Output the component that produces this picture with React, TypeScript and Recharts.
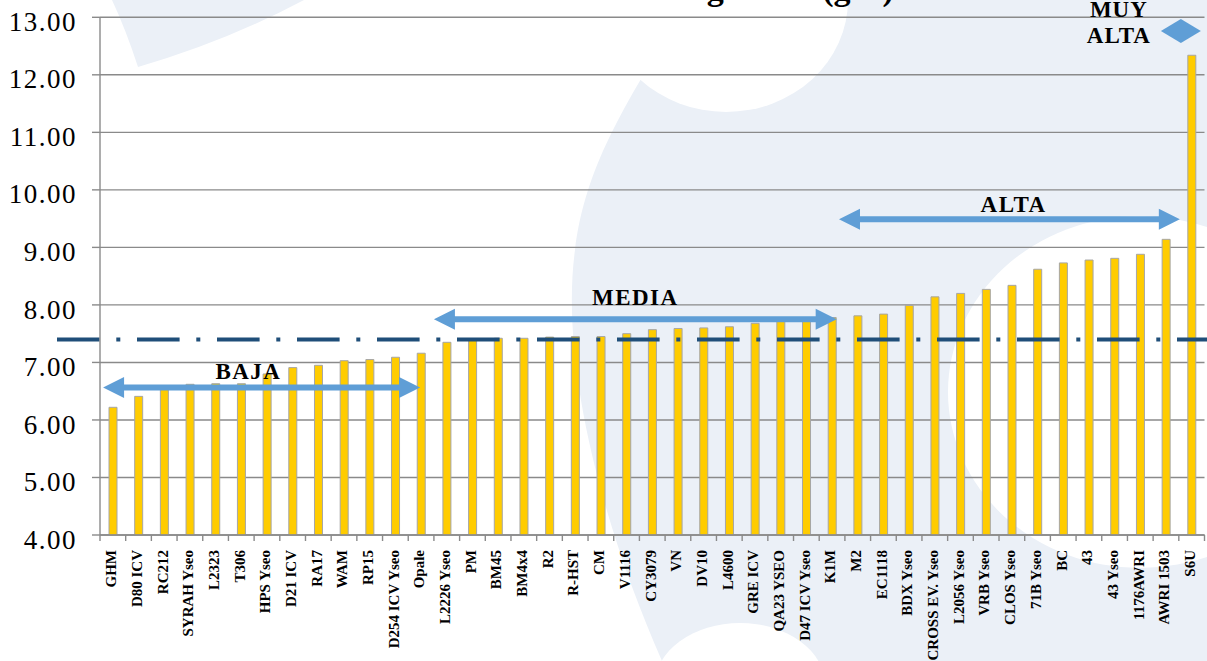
import React from 'react';
import {
  BarChart,
  Bar,
  XAxis,
  YAxis,
  CartesianGrid,
  ReferenceLine,
  ReferenceDot,
} from 'recharts';

// ---------- data ----------
const categories = [
  'GHM', 'D80 ICV', 'RC212', 'SYRAH Yseo', 'L2323', 'T306', 'HPS Yseo', 'D21 ICV',
  'RA17', 'WAM', 'RP15', 'D254 ICV Yseo', 'Opale', 'L2226 Yseo', 'PM', 'BM45',
  'BM4x4', 'R2', 'R-HST', 'CM', 'V1116', 'CY3079', 'VN', 'DV10', 'L4600',
  'GRE ICV', 'QA23 YSEO', 'D47 ICV Yseo', 'K1M', 'M2', 'EC1118', 'BDX Yseo',
  'CROSS EV. Yseo', 'L2056 Yseo', 'VRB Yseo', 'CLOS Yseo', '71B Yseo', 'BC', '43',
  '43 Yseo', '1176AWRI', 'AWRI 1503', 'S6U',
];
const glicerol = [
  6.22, 6.41, 6.55, 6.62, 6.63, 6.63, 6.8, 6.91,
  6.95, 7.03, 7.05, 7.09, 7.16, 7.35, 7.39, 7.42,
  7.42, 7.44, 7.45, 7.45, 7.5, 7.57, 7.59, 7.6, 7.62,
  7.68, 7.72, 7.72, 7.78, 7.81, 7.84, 7.99,
  8.14, 8.2, 8.27, 8.34, 8.62, 8.73, 8.78,
  8.81, 8.88, 9.14, 12.34,
];
const yTicks = [4, 5, 6, 7, 8, 9, 10, 11, 12, 13];
const mediaGeneral = 7.4;

// range annotations (x in category units, y in g/L)
const rangeNames = ['BAJA', 'MEDIA', 'ALTA'];
const rangeStart = [0.12, 13.0, 28.77];
const rangeEnd = [12.46, 28.68, 42.04];
const rangeArrowY = [6.565, 7.75, 9.49];
const rangeLabelX = [5.78, 20.84, 35.57];
const rangeLabelY = [6.715, 8.0, 9.62];
const muyAltaLines = ['MUY', 'ALTA'];
const muyAltaX = 42.08;
const muyAltaY = 12.76;

const title = 'Producción de glicerol (g/L)';

const data = categories.map((c, i) => ({ cepa: c, pos: i + 0.5, glicerol: glicerol[i] }));

// ---------- styles ----------
const SERIF = "'Liberation Serif', 'Times New Roman', serif";
const GRID = '#8a8a8a';
const BLUE = '#5f9ed6';
const NAVY = '#1f4e79';
const BG = '#ebf0f7';
const X_TICK_SIZE = 6;
const X_TICK_GAP = 15;

const YTick = (props: any) => {
  const { x, y, payload } = props;
  return (
    <text
      x={x}
      y={y + 13.6}
      textAnchor="end"
      fontFamily={SERIF}
      fontSize={27}
      letterSpacing={1.5}
      fill="#000"
    >
      {Number(payload.value).toFixed(2)}
    </text>
  );
};

const XTick = (props: any) => {
  const { x, y, payload, index, visibleTicksCount, width } = props;
  const half = width && visibleTicksCount ? width / visibleTicksCount / 2 : 0;
  const axisY = y - X_TICK_GAP;
  return (
    <g>
      {half > 0 && (
        <line
          x1={x - half}
          x2={x - half}
          y1={axisY}
          y2={axisY + X_TICK_SIZE}
          stroke={GRID}
          strokeWidth={1.4}
        />
      )}
      {half > 0 && index === visibleTicksCount - 1 && (
        <line
          x1={x + half}
          x2={x + half}
          y1={axisY}
          y2={axisY + X_TICK_SIZE}
          stroke={GRID}
          strokeWidth={1.4}
        />
      )}
      <text
        transform={`rotate(-90, ${x}, ${y})`}
        x={x}
        y={y}
        dy="0.22em"
        textAnchor="end"
        fontFamily={SERIF}
        fontWeight="bold"
        fontSize={15}
        fill="#000"
      >
        {payload.value}
      </text>
    </g>
  );
};

const MeanLine = (props: any) => {
  const ax = Number(props.x1);
  const bx = Number(props.x2);
  const y = Number(props.y1);
  const left = Math.min(ax, bx) - 43;
  const right = Math.max(ax, bx) + 3;
  return (
    <line
      x1={left}
      y1={y}
      x2={right}
      y2={y}
      stroke={NAVY}
      strokeWidth={4}
      strokeDasharray="42.6 16.7 4 16.7"
    />
  );
};

const DoubleArrow = (props: any) => {
  const a = Number(props.x1);
  const b = Number(props.x2);
  const x1 = Math.min(a, b);
  const x2 = Math.max(a, b);
  const y = Number(props.y1);
  const h = 21;
  const hw = 10.5;
  const t = 3;
  const pts = [
    [x1, y],
    [x1 + h, y - hw],
    [x1 + h, y - t],
    [x2 - h, y - t],
    [x2 - h, y - hw],
    [x2, y],
    [x2 - h, y + hw],
    [x2 - h, y + t],
    [x1 + h, y + t],
    [x1 + h, y + hw],
  ]
    .map((p) => p.join(','))
    .join(' ');
  return <polygon points={pts} fill={BLUE} />;
};

const makeLabel = (text: string) => (props: any) => {
  const { cx, cy } = props;
  return (
    <text
      x={cx}
      y={cy}
      textAnchor="middle"
      fontFamily={SERIF}
      fontWeight="bold"
      fontSize={23}
      letterSpacing={1.5}
      fill="#000"
    >
      {text}
    </text>
  );
};

const MuyAlta = (props: any) => {
  const { cx, cy } = props;
  return (
    <g>
      <polygon
        points={`${cx - 20},${cy} ${cx},${cy - 12} ${cx + 20},${cy} ${cx},${cy + 12}`}
        fill={BLUE}
      />
      {muyAltaLines.map((l, i) => (
        <text
          key={l}
          x={cx - 62}
          y={cy - 14.3 + i * 26}
          textAnchor="middle"
          fontFamily={SERIF}
          fontWeight="bold"
          fontSize={23}
          letterSpacing={1}
          fill="#000"
        >
          {l}
        </text>
      ))}
    </g>
  );
};

export default function App() {
  return (
    <div
      style={{
        position: 'fixed',
        left: 0,
        top: 0,
        width: 1207,
        height: 661,
        background: '#fff',
        overflow: 'hidden',
      }}
    >
      <svg
        width={1207}
        height={661}
        style={{ position: 'absolute', left: 0, top: 0 }}
      >
        <path d="M112,0 L304,0 Q225,42 138,67 Q126,30 112,0 Z" fill={BG} />
        <path
          d="M690,0 L1207,0 L1207,661 L662,661 C600,520 560,360 575,250 C585,170 620,110 690,0 Z"
          fill={BG}
        />
        <ellipse cx={726} cy={0} rx={122} ry={112} fill="#fff" />
        <ellipse cx={1140} cy={392} rx={192} ry={176} fill="#fff" />
        <ellipse cx={740} cy={685} rx={85} ry={62} fill="#fff" />
      </svg>
      <div style={{ position: 'absolute', left: 0, top: 0 }}>
        <BarChart
          width={1207}
          height={661}
          data={data}
          margin={{ top: 17.3, right: 2.5, bottom: 0, left: 0 }}
          barCategoryGap={0}
        >
          <CartesianGrid
            vertical={false}
            stroke={GRID}
            strokeWidth={1.4}
            yAxisId="y"
            xAxisId="cat"
          />
          <XAxis
            xAxisId="cat"
            dataKey="cepa"
            type="category"
            interval={0}
            tick={<XTick />}
            tickLine={false}
            axisLine={{ stroke: GRID, strokeWidth: 1.4 }}
            tickSize={X_TICK_SIZE}
            tickMargin={X_TICK_GAP - X_TICK_SIZE}
            height={126}
          />
          <XAxis
            xAxisId="num"
            dataKey="pos"
            type="number"
            domain={[0, categories.length]}
            allowDataOverflow
            hide
          />
          <YAxis
            yAxisId="y"
            domain={[4, 13]}
            ticks={yTicks}
            interval={0}
            width={100}
            tickSize={8}
            tickMargin={15}
            tick={<YTick />}
            tickLine={{ stroke: GRID, strokeWidth: 1.4 }}
            axisLine={{ stroke: GRID, strokeWidth: 1.4 }}
            allowDataOverflow
          />
          <Bar
            dataKey="glicerol"
            xAxisId="cat"
            yAxisId="y"
            barSize={8}
            fill="#ffcc00"
            stroke="#a6a6a6"
            strokeWidth={1}
            isAnimationActive={false}
          />
          <ReferenceLine
            xAxisId="num"
            yAxisId="y"
            y={mediaGeneral}
            shape={<MeanLine />}
            ifOverflow="visible"
          />
          {rangeNames.map((n, i) => (
            <ReferenceLine
              key={'a' + n}
              xAxisId="num"
              yAxisId="y"
              segment={[
                { x: rangeStart[i], y: rangeArrowY[i] },
                { x: rangeEnd[i], y: rangeArrowY[i] },
              ]}
              shape={<DoubleArrow />}
              ifOverflow="visible"
            />
          ))}
          {rangeNames.map((n, i) => (
            <ReferenceDot
              key={'l' + n}
              xAxisId="num"
              yAxisId="y"
              x={rangeLabelX[i]}
              y={rangeLabelY[i]}
              r={1}
              shape={makeLabel(n)}
              ifOverflow="visible"
            />
          ))}
          <ReferenceDot
            xAxisId="num"
            yAxisId="y"
            x={muyAltaX}
            y={muyAltaY}
            r={1}
            shape={<MuyAlta />}
            ifOverflow="visible"
          />
        </BarChart>
      </div>
      <svg
        width={1207}
        height={661}
        style={{ position: 'absolute', left: 0, top: 0, pointerEvents: 'none' }}
      >
        <text
          x={692}
          y={-0.5}
          textAnchor="middle"
          fontFamily={SERIF}
          fontWeight="bold"
          fontSize={34}
          fill="#000"
        >
          {title}
        </text>
      </svg>
    </div>
  );
}
